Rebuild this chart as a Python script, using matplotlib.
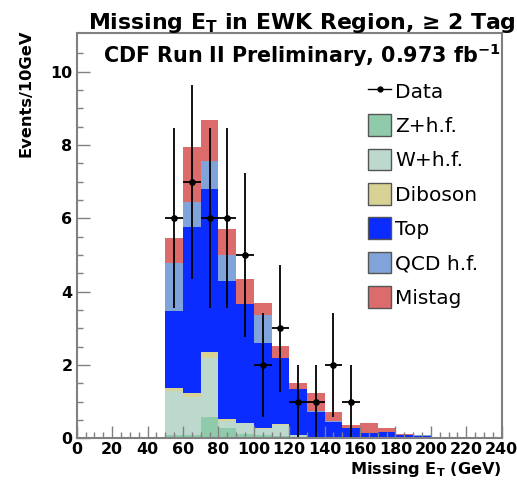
import numpy as np
import matplotlib
matplotlib.use("Agg")
import matplotlib.pyplot as plt
from matplotlib.lines import Line2D
from matplotlib.patches import Patch

plt.rcParams["font.family"] = ["DejaVu Sans"]
plt.rcParams["mathtext.fontset"] = "dejavusans"

# Missing E_T bins, 10 GeV wide, from 50 to 230 GeV
bin_edges = np.arange(50, 240, 10)

# Stacked background expectations (events / 10 GeV), bottom to top
z_hf    = [0.09, 0.08, 0.59, 0.28, 0.12, 0.08, 0.06, 0.03, 0.01, 0, 0, 0, 0, 0, 0, 0, 0, 0]
w_hf    = [1.21, 1.05, 1.59, 0.19, 0.29, 0.18, 0.30, 0.05, 0.02, 0.01, 0.01, 0, 0, 0, 0, 0, 0, 0]
diboson = [0.08, 0.10, 0.18, 0.05, 0.02, 0.01, 0.02, 0.01, 0.01, 0.01, 0, 0, 0, 0, 0, 0, 0, 0]
top     = [2.10, 4.52, 4.45, 3.78, 3.22, 2.34, 1.80, 1.25, 0.69, 0.43, 0.26, 0.15, 0.16, 0.09, 0.06, 0.03, 0, 0.03]
qcd_hf  = [1.29, 0.68, 0.74, 0.69, 0.01, 0.74, 0.01, 0.01, 0.01, 0.01, 0.01, 0, 0, 0, 0.03, 0, 0, 0]
mistag  = [0.70, 1.50, 1.12, 0.72, 0.69, 0.33, 0.32, 0.17, 0.49, 0.25, 0.08, 0.26, 0.11, 0.03, 0.01, 0, 0.03, 0]

# Observed data (bin centres and counts)
data_x = [55, 65, 75, 85, 95, 105, 115, 125, 135, 145, 155]
data_n = [6, 7, 6, 6, 5, 2, 3, 1, 1, 2, 1]

components = [
    ("Z+h.f.", z_hf, "#8fcbaa"),
    ("W+h.f.", w_hf, "#bdd9cd"),
    ("Diboson", diboson, "#d8d394"),
    ("Top", top, "#0a2cff"),
    ("QCD h.f.", qcd_hf, "#80a3d9"),
    ("Mistag", mistag, "#dc6b6b"),
]

frame_gray = "#808080"

fig = plt.figure(figsize=(5.17, 4.82), dpi=100)
ax = fig.add_axes([0.1484, 0.0907, 0.8220, 0.8415])

base = np.zeros(len(bin_edges) - 1)
for name, vals, col in components:
    vals = np.asarray(vals, dtype=float)
    ax.stairs(base + vals, bin_edges, baseline=base.copy(), fill=True,
              color=col, linewidth=0, zorder=2)
    base = base + vals

ax.errorbar(data_x, data_n, xerr=5, yerr=np.sqrt(data_n), fmt="o",
            color="black", ms=3.8, elinewidth=1.3, capsize=0, zorder=4)

ax.set_xlim(0, 240)
ax.set_ylim(0, 11.06)

ax.set_xticks(np.arange(0, 241, 20))
ax.set_xticks(np.arange(0, 241, 5), minor=True)
ax.set_yticks(np.arange(0, 11, 2))
ax.set_yticks(np.arange(0, 11, 0.5), minor=True)
ax.set_xticklabels([str(v) for v in range(0, 241, 20)], fontweight="bold", fontsize=11.4)
ax.set_yticklabels([str(v) for v in range(0, 11, 2)], fontweight="bold", fontsize=11.4)

ax.tick_params(axis="x", which="major", direction="in", length=8.5, width=1.0,
               color=frame_gray, pad=2.5, top=False)
ax.tick_params(axis="x", which="minor", direction="in", length=4.2, width=1.0,
               color=frame_gray, top=False)
ax.tick_params(axis="y", which="major", direction="in", length=9.2, width=1.0,
               color=frame_gray, pad=3, right=False)
ax.tick_params(axis="y", which="minor", direction="in", length=4.6, width=1.0,
               color=frame_gray, right=False)
for sp in ax.spines.values():
    sp.set_color(frame_gray)
    sp.set_linewidth(1.5)
    sp.set_zorder(5)
ax.set_axisbelow(False)

# Titles and axis labels
fig.text(301.5 / 517, 1 - 29 / 482, r"Missing E$_\mathbf{T}$ in EWK Region, ≥ 2 Tag",
         ha="center", va="baseline", fontsize=15.8, fontweight="bold")
fig.text(302 / 517, 1 - 63 / 482, r"CDF Run II Preliminary, 0.973 fb$^\mathbf{-1}$",
         ha="center", va="baseline", fontsize=14.9, fontweight="bold")
fig.text(502 / 517, 1 - 474 / 482, r"Missing E$_\mathbf{T}$ (GeV)",
         ha="right", va="baseline", fontsize=11.6, fontweight="bold")
fig.text(26 / 517, 1 - 93.5 / 482, "Events/10GeV", rotation=90,
         ha="center", va="center", fontsize=11.7, fontweight="bold")

# Legend
handles = [Line2D([], [], color="black", marker="o", ms=3.5, lw=1.0)]
labels = ["Data"]
for name, vals, col in components:
    handles.append(Patch(facecolor=col, edgecolor="#555555", linewidth=1.0))
    labels.append(name)
ax.legend(handles, labels, loc="upper left",
          bbox_to_anchor=(368 / 517, 1 - 80 / 482), bbox_transform=fig.transFigure,
          frameon=False, fontsize=14.5, handlelength=1.15, handleheight=1.29,
          handletextpad=0.2, labelspacing=0.62, borderpad=0, borderaxespad=0)

fig.savefig("out.png", dpi=100)
